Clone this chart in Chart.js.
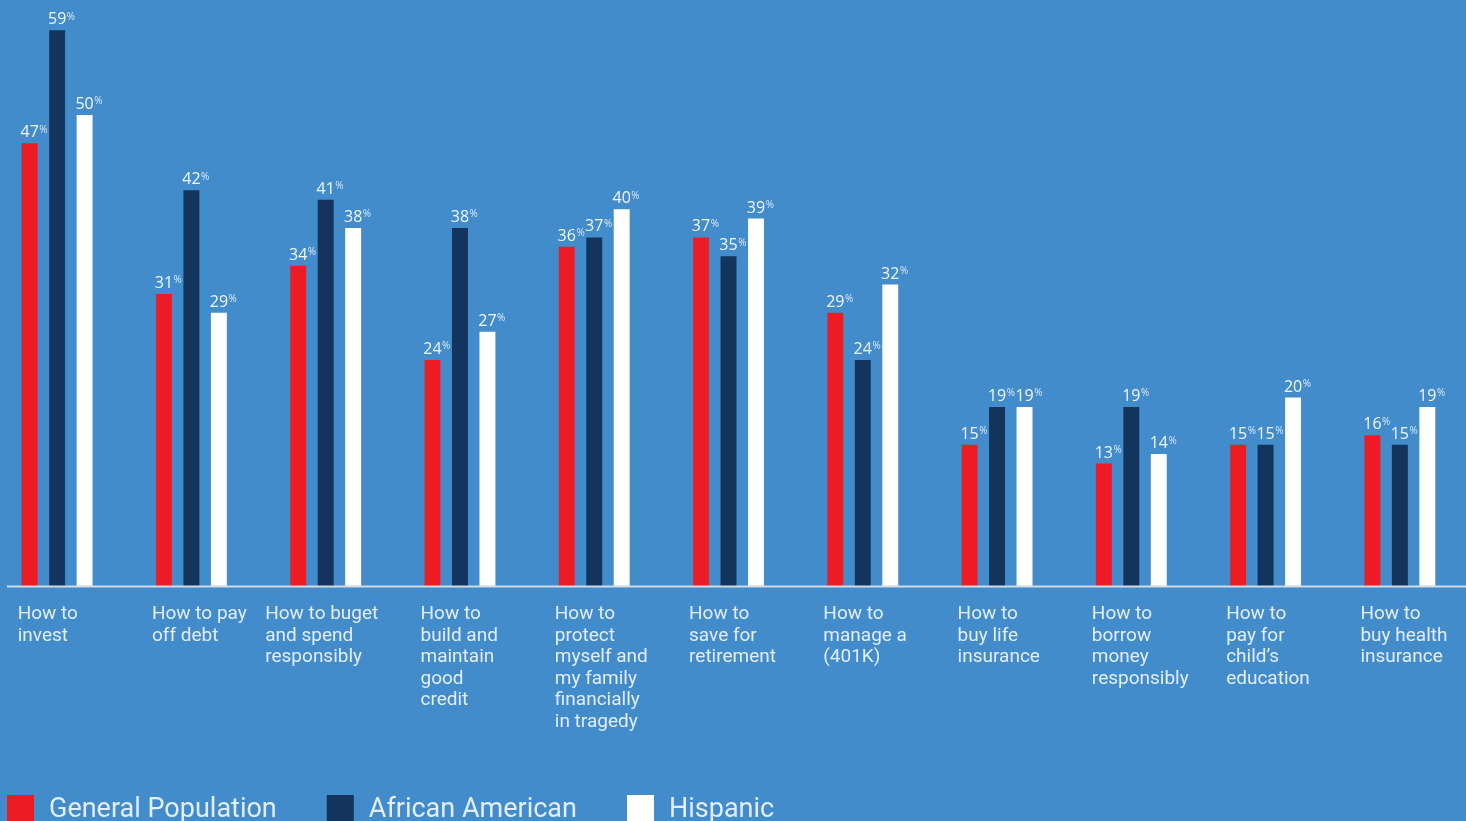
<!DOCTYPE html>
<html>
<head>
<meta charset="utf-8">
<script src="https://cdn.jsdelivr.net/npm/chart.js@4.4.1/dist/chart.umd.min.js"></script>
<style>
  html, body { margin: 0; padding: 0; background: #428ccb; overflow: hidden; }
  #wrap { position: absolute; left: -10px; top: 0; width: 1477px; height: 821px; }
</style>
</head>
<body>
<div id="wrap"><canvas id="knowledgeChart"></canvas></div>
<script>
const categories = [
  ['How to', 'invest'],
  ['How to pay', 'off debt'],
  ['How to buget', 'and spend', 'responsibly'],
  ['How to', 'build and', 'maintain', 'good', 'credit'],
  ['How to', 'protect', 'myself and', 'my family', 'financially', 'in tragedy'],
  ['How to', 'save for', 'retirement'],
  ['How to', 'manage a', '(401K)'],
  ['How to', 'buy life', 'insurance'],
  ['How to', 'borrow', 'money', 'responsibly'],
  ['How to', 'pay for', 'child’s', 'education'],
  ['How to', 'buy health', 'insurance']
];

const seriesNames = ['General Population', 'African American', 'Hispanic'];
const generalPopulation = [47, 31, 34, 24, 36, 37, 29, 15, 13, 15, 16];
const africanAmerican = [59, 42, 41, 38, 37, 35, 24, 19, 19, 15, 15];
const hispanic = [50, 29, 38, 27, 40, 39, 32, 19, 14, 20, 19];
const seriesColors = ['#ed1c24', '#13345c', '#ffffff'];

const TEXT_COLOR = '#e3eef8';

// value labels on top of each bar, with a small raised "%"
const valueLabels = {
  id: 'valueLabels',
  afterDatasetsDraw: function(chart) {
    const ctx = chart.ctx;
    ctx.save();
    chart.data.datasets.forEach((ds, di) => {
      chart.getDatasetMeta(di).data.forEach((bar, i) => {
        const num = String(ds.data[i]);
        ctx.font = '500 16px "Open Sans"';
        const w = ctx.measureText(num).width;
        const baseY = bar.y - 6;
        ctx.fillStyle = '#f2f7fc';
        ctx.textAlign = 'left';
        ctx.textBaseline = 'alphabetic';
        ctx.fillText(num, bar.x - w / 2, baseY);
        ctx.font = '500 10px "Open Sans"';
        ctx.fillStyle = '#dce9f5';
        ctx.fillText('%', bar.x + w / 2 + 0.5, baseY - 4.5);
      });
    });
    ctx.restore();
  }
};

// baseline, category labels and legend
const chartFrame = {
  id: 'chartFrame',
  afterDraw: function(chart) {
    const ctx = chart.ctx;
    const area = chart.chartArea;
    ctx.save();

    ctx.strokeStyle = '#d3d9df';
    ctx.lineWidth = 2;
    ctx.beginPath();
    ctx.moveTo(17, area.bottom + 0.5);
    ctx.lineTo(chart.width, area.bottom + 0.5);
    ctx.stroke();

    // category labels, left aligned near the first bar of each group
    const firstBars = chart.getDatasetMeta(0).data;
    ctx.font = '19px Roboto';
    ctx.fillStyle = TEXT_COLOR;
    ctx.textAlign = 'left';
    ctx.textBaseline = 'alphabetic';
    categories.forEach((lines, i) => {
      const bar = firstBars[i];
      let x = bar.x - bar.width / 2 - 4;
      if (i === 2) x -= 21;
      lines.forEach((line, li) => {
        ctx.fillText(line, x, area.bottom + 33 + li * 21.5);
      });
    });

    // legend
    ctx.font = '27px Roboto';
    let lx = 17;
    seriesNames.forEach((name, i) => {
      ctx.fillStyle = seriesColors[i];
      ctx.fillRect(lx, 795, 27, 27);
      ctx.fillStyle = TEXT_COLOR;
      ctx.fillText(name, lx + 42, 817);
      lx += 42 + ctx.measureText(name).width + 50;
    });

    ctx.restore();
  }
};

const ctx = document.getElementById('knowledgeChart').getContext('2d');

new Chart(ctx, {
  type: 'bar',
  data: {
    labels: categories,
    datasets: [generalPopulation, africanAmerican, hispanic].map((values, i) => ({
      label: seriesNames[i],
      data: values,
      backgroundColor: seriesColors[i],
      borderWidth: 0,
      categoryPercentage: 0.614,
      barPercentage: 0.58
    }))
  },
  options: {
    responsive: true,
    maintainAspectRatio: false,
    animation: false,
    layout: { padding: { top: 0, bottom: 235, left: 0, right: 0 } },
    plugins: {
      legend: { display: false },
      tooltip: { enabled: false }
    },
    scales: {
      x: { display: false },
      y: { display: false, min: 0, max: 62.2 }
    }
  },
  plugins: [valueLabels, chartFrame]
});
</script>
</body>
</html>
